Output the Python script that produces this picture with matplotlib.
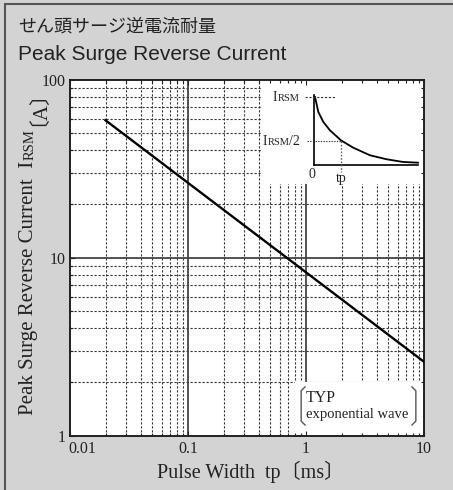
import numpy as np
import matplotlib
matplotlib.use('Agg')
import matplotlib.pyplot as plt
import matplotlib.transforms as mtransforms
from matplotlib.patches import Rectangle

plt.rcParams['font.family'] = ['Liberation Serif', 'Noto Sans CJK JP']
plt.rcParams['axes.unicode_minus'] = False

# main characteristic (tp [ms], IRSM [A])
tp = [0.02, 10.0]
irsm = [59.0, 2.6]

x_ticks = [0.01, 0.1, 1, 10]
x_labels = ['0.01', '0.1', '1', '10']
y_ticks = [1, 10, 100]
y_labels = ['1', '10', '100']

# inset sketch of the exponential pulse (normalised)
wave_t = [0.007, 0.039, 0.087, 0.151, 0.257, 0.376, 0.537, 0.698, 0.858, 1.0]
wave_i = [1.0, 0.778, 0.631, 0.508, 0.360, 0.251, 0.139, 0.080, 0.040, 0.030]
half_level = 0.35
tp_mark = 0.257

W, H = 453, 490
fig = plt.figure(figsize=(W / 100, H / 100), dpi=100)
fig.patch.set_facecolor('#d3d3d3')
fig.patches.append(Rectangle((4.5 / W, -0.05), 1.2, 1 - 4.5 / H + 0.05, transform=fig.transFigure,
                             fill=False, edgecolor='#555555', lw=1.5))

serif = ['Liberation Serif', 'Noto Sans CJK JP']
txt_col = '#222222'


def fx(px):
    return px / W


def fy(py):
    return 1 - py / H


def put_pieces(x, y, pieces, rotation=0):
    # pieces: (text, size, shift in px before piece); x, y = baseline start in px from top-left
    renderer = fig.canvas.get_renderer()
    for s, size, shift in pieces:
        if rotation == 0:
            x += shift
        else:
            y -= shift
        t = fig.text(fx(x), fy(y), s, fontsize=size, family=serif, color=txt_col,
                     rotation=rotation, rotation_mode='anchor', ha='left', va='baseline')
        bb = t.get_window_extent(renderer)
        if rotation == 0:
            x = bb.x1
        else:
            y = H - bb.y1


# titles
fig.text(fx(18), fy(32), 'せん頭サージ逆電流耐量', family=['Noto Sans CJK JP'], fontsize=13,
         color=txt_col, va='baseline')
fig.text(fx(18), fy(59.5), 'Peak Surge Reverse Current', family=['Liberation Sans'], fontsize=15,
         color=txt_col, va='baseline')

# main axes
ax = fig.add_axes([fx(70), fy(435.7), 354 / W, 356.2 / H])
ax.set_xscale('log')
ax.set_yscale('log')
ax.set_xlim(0.01, 10)
ax.set_ylim(1, 100)

minor_x = [m * 10.0 ** e for e in (-2, -1, 0) for m in range(2, 10)]
minor_y = [m * 10.0 ** e for e in (0, 1) for m in range(2, 10)]
for v in minor_x:
    ax.axvline(v, color='#333333', lw=0.8, ls=(0, (2.0, 1.6)), zorder=1)
for v in minor_y:
    ax.axhline(v, color='#333333', lw=0.8, ls=(0, (2.0, 1.6)), zorder=1)
for v in [0.1, 1]:
    ax.axvline(v, color='#444444', lw=1.3, zorder=1.1)
ax.axhline(10, color='#444444', lw=1.3, zorder=1.1)

# white areas for inset and note
ax.add_patch(Rectangle((0.54, 0.707), 0.46, 0.293, transform=ax.transAxes,
                       facecolor='white', edgecolor='none', zorder=1.5))
ax.add_patch(Rectangle((0.636, 0.0), 0.364, 0.151, transform=ax.transAxes,
                       facecolor='white', edgecolor='none', zorder=1.5))

ax.plot(tp, irsm, color='black', lw=1.7, zorder=3)

ax.set_xticks(x_ticks, labels=x_labels)
ax.set_yticks(y_ticks, labels=y_labels)
ax.xaxis.set_minor_formatter(matplotlib.ticker.NullFormatter())
ax.yaxis.set_minor_formatter(matplotlib.ticker.NullFormatter())
ax.tick_params(which='both', direction='in', top=True, right=True, color='#222222',
               labelcolor=txt_col, labelsize=11.5, width=0.8)
ax.tick_params(which='major', length=3.6)
ax.tick_params(which='minor', length=2.2)
ax.tick_params(axis='x', pad=4)
ax.tick_params(axis='y', pad=3)
lab0 = ax.get_xticklabels()[0]
lab0.set_horizontalalignment('left')
lab0.set_transform(lab0.get_transform() +
                   mtransforms.ScaledTranslation(-2 / 100, 0, fig.dpi_scale_trans))
ax.xaxis.set_zorder(2.6)
ax.yaxis.set_zorder(2.6)
for sp in ax.spines.values():
    sp.set_linewidth(1.3)
    sp.set_color('#111111')

# note with brackets
bk = dict(transform=ax.transAxes, color='#555555', lw=1.0, clip_on=False, zorder=3)
ax.plot([0.664, 0.653, 0.653, 0.664], [0.137, 0.126, 0.041, 0.030], **bk)
ax.plot([0.966, 0.977, 0.977, 0.966], [0.137, 0.126, 0.041, 0.030], **bk)
ax.text(0.667, 0.094, 'TYP', transform=ax.transAxes, fontsize=11.5, color=txt_col,
        va='baseline', zorder=3)
ax.text(0.667, 0.049, 'exponential wave', transform=ax.transAxes, fontsize=10.5, color=txt_col,
        va='baseline', zorder=3)

# axis labels
fig.text(fx(157), fy(477.5), 'Pulse Width  tp〔ms〕', fontsize=14.5, family=serif,
         color=txt_col, va='baseline', ha='left')
put_pieces(33.5, 415, [('Peak Surge Reverse Current  I', 15, 0), ('RSM', 10.5, 0.5),
                       ('〔A〕', 15, 3)], rotation=90)

# inset pulse sketch
iax = fig.add_axes([fx(314.3), fy(164.7), 103.7 / W, 67.7 / H])
iax.set_xlim(0, 1)
iax.set_ylim(0, 1)
iax.axis('off')
iax.plot([0, 0], [0, 1.025], color='black', lw=1.2, clip_on=False)
iax.plot([0, 1], [0, 0], color='black', lw=1.2, clip_on=False)
iax.plot(wave_t, wave_i, color='black', lw=1.3, clip_on=False)
iax.plot([-0.09, 0.21], [1.0, 1.0], color='#333333', lw=0.8, ls=(0, (2, 1.5)), clip_on=False)
iax.plot([-0.07, tp_mark], [half_level, half_level], color='#333333', lw=0.8,
         ls=(0, (1.2, 1.2)), clip_on=False)
iax.plot([tp_mark, tp_mark], [half_level, -0.11], color='#666666', lw=1.0,
         ls=(0, (1.2, 1.2)), clip_on=False)
iax.text(-0.02, -0.05, '0', fontsize=10, color=txt_col, ha='center', va='top')
iax.text(tp_mark, -0.11, 'tp', fontsize=10, color=txt_col, ha='center', va='top')

put_pieces(273, 101, [('I', 10, 0), ('RSM', 7.5, 0)])
put_pieces(263, 145, [('I', 10, 0), ('RSM', 7.5, 0), ('/2', 10, 0)])

fig.savefig('out.png', dpi=100, facecolor=fig.get_facecolor())
